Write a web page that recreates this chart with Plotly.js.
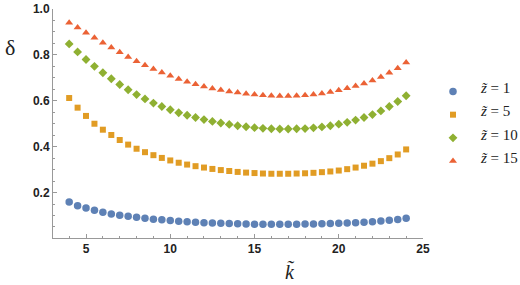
<!DOCTYPE html>
<html>
<head>
<meta charset="utf-8">
<script src="https://cdn.plot.ly/plotly-3.0.1.min.js"></script>
<style>html,body{margin:0;padding:0;background:#fff;}#chart{width:520px;height:285px;}</style>
</head>
<body>
<div id="chart"></div>
<script>
const kValues = [4,4.5,5,5.5,6,6.5,7,7.5,8,8.5,9,9.5,10,10.5,11,11.5,12,12.5,13,13.5,14,14.5,15,15.5,16,16.5,17,17.5,18,18.5,19,19.5,20,20.5,21,21.5,22,22.5,23,23.5,24];
const deltaZ1 = [0.159,0.143,0.133,0.123,0.114,0.107,0.101,0.097,0.092,0.088,0.084,0.081,0.078,0.075,0.073,0.071,0.069,0.067,0.066,0.065,0.064,0.063,0.062,0.062,0.062,0.062,0.062,0.062,0.063,0.063,0.064,0.065,0.066,0.067,0.069,0.071,0.073,0.076,0.079,0.083,0.088];
const deltaZ5 = [0.612,0.570,0.534,0.500,0.474,0.451,0.429,0.409,0.391,0.376,0.363,0.351,0.340,0.330,0.322,0.315,0.309,0.303,0.298,0.294,0.290,0.287,0.285,0.283,0.282,0.282,0.282,0.283,0.284,0.286,0.289,0.292,0.296,0.302,0.309,0.317,0.326,0.337,0.350,0.366,0.388];
const deltaZ10 = [0.848,0.813,0.780,0.750,0.722,0.696,0.671,0.648,0.627,0.608,0.590,0.575,0.561,0.548,0.537,0.527,0.518,0.510,0.503,0.497,0.491,0.487,0.483,0.480,0.478,0.477,0.477,0.478,0.479,0.482,0.486,0.491,0.498,0.506,0.516,0.527,0.540,0.556,0.575,0.597,0.622];
const deltaZ15 = [0.940,0.919,0.897,0.875,0.853,0.832,0.811,0.791,0.772,0.755,0.738,0.723,0.709,0.695,0.683,0.672,0.662,0.654,0.647,0.641,0.636,0.631,0.627,0.624,0.622,0.621,0.621,0.622,0.624,0.627,0.632,0.638,0.646,0.655,0.664,0.675,0.688,0.704,0.722,0.742,0.767];
const seriesLabels = ['<i>z\u0303</i> = 1','<i>z\u0303</i> = 5','<i>z\u0303</i> = 10','<i>z\u0303</i> = 15'];

const colors = ['#5E81B5','#E19C24','#8FB032','#EB6235'];
const symbols = ['circle','square','diamond','triangle-up'];
const sizes = [7.5,6,6.8,7];
const ys = [deltaZ1,deltaZ5,deltaZ10,deltaZ15];

const traces = ys.map((y,i)=>({
  x: kValues, y: y, type:'scatter', mode:'markers', name: '\u00a0',
  marker:{symbol:symbols[i], color:colors[i], size:sizes[i], line:{width:0}}
}));

const axisCommon = {
  showgrid:false, zeroline:false, showline:true, linecolor:'#999', linewidth:1,
  ticks:'inside', ticklen:4, tickcolor:'#999', tickwidth:1,
  tickfont:{family:'Liberation Sans, Arial', size:12, color:'#222', weight:'bold'}
};

const serif = 'Liberation Serif, Times New Roman';
const labelRowsY = [0.655, 0.555, 0.450, 0.350];
const legendLabels = seriesLabels.map((t,i)=>({
  xref:'paper', yref:'paper', x:1.1514, y:labelRowsY[i], xanchor:'left', yanchor:'middle',
  showarrow:false, text:t, borderpad:0, font:{family:serif, size:15, color:'#222'}
}));

const layout = {
  width:520, height:285,
  margin:{l:53, r:97, t:9, b:47, autoexpand:false},
  paper_bgcolor:'#fff', plot_bgcolor:'#fff',
  xaxis: Object.assign({}, axisCommon, {range:[3.04,25], tick0:0, dtick:5,
    minor:{dtick:1, tick0:0, ticks:'inside', ticklen:2, tickcolor:'#999'}}),
  yaxis: Object.assign({}, axisCommon, {range:[0.002,1.0], tick0:0, dtick:0.2, tickformat:'.1f',
    minor:{dtick:0.05, tick0:0, ticks:'inside', ticklen:2, tickcolor:'#999'}}),
  showlegend:true,
  legend:{x:1.027, y:0.712, xanchor:'left', yanchor:'top', bgcolor:'rgba(0,0,0,0)',
    itemsizing:'trace', font:{family:serif, size:15.5, color:'#222'}},
  annotations:[
    {xref:'paper', yref:'paper', x:0.64, y:-0.148, xanchor:'center', yanchor:'middle', showarrow:false,
     text:'<i>k\u0303</i>', font:{family:serif, size:20, color:'#222'}},
    {xref:'paper', yref:'paper', x:-0.115, y:0.83, xanchor:'center', yanchor:'middle', showarrow:false,
     text:'\u03b4', font:{family:serif, size:22, color:'#222'}}
  ].concat(legendLabels)
};

Plotly.newPlot('chart', traces, layout, {displayModeBar:false, staticPlot:true});
</script>
</body>
</html>
